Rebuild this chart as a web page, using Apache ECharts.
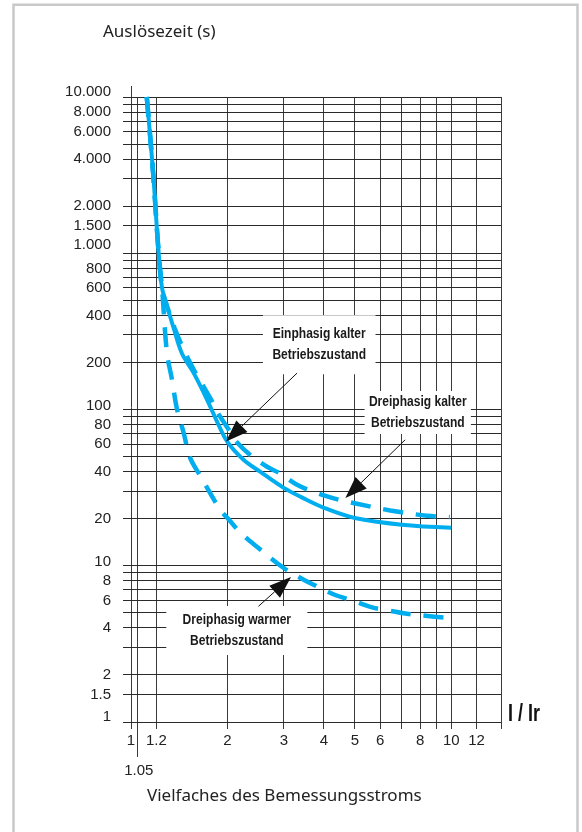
<!DOCTYPE html>
<html>
<head>
<meta charset="utf-8">
<script src="https://cdn.jsdelivr.net/npm/echarts@6/dist/echarts.min.js"></script>
<style>
  html, body { margin: 0; padding: 0; background: #fff; }
  #chart { width: 582px; height: 832px; }
</style>
</head>
<body>
<div id="chart"></div>
<script>
// Auslösekennlinie: Auslösezeit über dem Vielfachen des Bemessungsstroms (log/log)

// Axis ranges
const xMin = 1, xMax = 14.3;
const yMin = 1, yMax = 10000;

// Grid lines and tick labels
const xGridValues = [1, 1.05, 1.2, 2, 3, 4, 5, 6, 7, 8, 9, 10, 12, 14.3];
const xTickValues = [1, 1.2, 2, 3, 4, 5, 6, 8, 10, 12];
const xTickLabels = ['1', '1.2', '2', '3', '4', '5', '6', '8', '10', '12'];
const xLowTickValues = [1.05];
const xLowTickLabels = ['1.05'];

const yGridValues = [1, 1.5, 2, 3, 4, 5, 6, 7, 8, 9,
  10, 20, 30, 40, 50, 60, 70, 80, 90,
  100, 200, 300, 400, 500, 600, 700, 800, 900,
  1000, 1500, 2000, 3000, 4000, 5000, 6000, 7000, 8000, 9000, 10000];
const yTickValues = [1, 1.5, 2, 4, 6, 8, 10, 20, 40, 60, 80, 100, 200, 400, 600, 800,
  1000, 1500, 2000, 4000, 6000, 8000, 10000];
const yTickLabels = ['1', '1.5', '2', '4', '6', '8', '10', '20', '40', '60', '80', '100',
  '200', '400', '600', '800', '1.000', '1.500', '2.000', '4.000', '6.000', '8.000', '10.000'];

// Curves [I/Ir, t in s]
const einphasigKalt = [
  [1.12, 10000], [1.153, 5000], [1.176, 3000], [1.22, 1000], [1.25, 600], [1.30, 450],
  [1.36, 330], [1.44, 230], [1.57, 171], [1.73, 115], [1.85, 85], [2.0, 62],
  [2.25, 47.5], [2.53, 40], [3.0, 31.5], [3.4, 27.5], [4.0, 23.5], [5.0, 20.2],
  [7.0, 18.3], [10.0, 17.5]
];
const dreiphasigKalt = [
  [1.12, 10000], [1.153, 5000], [1.176, 3000], [1.22, 1000], [1.25, 600], [1.30, 450],
  [1.37, 330], [1.46, 242], [1.57, 180], [1.65, 151], [1.79, 113], [1.88, 93],
  [2.04, 72], [2.12, 63], [2.36, 51], [2.66, 43], [2.92, 39], [3.3, 33],
  [3.8, 29.2], [4.3, 27], [4.95, 25.2], [6.45, 22.6], [8.4, 20.9], [9.9, 20.5]
];
const dreiphasigWarm = [
  [1.12, 10000], [1.153, 5000], [1.176, 3000], [1.22, 1000], [1.25, 600], [1.295, 230],
  [1.343, 155], [1.39, 102], [1.46, 71], [1.53, 49], [1.65, 37.3], [1.9, 22.8],
  [2.02, 19.8], [2.2, 16.2], [2.5, 13], [3.0, 9.67], [3.46, 8.14], [3.81, 7.38],
  [4.34, 6.5], [4.84, 6.06], [5.59, 5.45], [6.27, 5.2], [7.27, 4.93], [8.16, 4.8],
  [9.6, 4.65]
];

// Annotations: [box x, box y, arrow start x, arrow start y, arrow tip x, arrow tip y]
const noteTexts = [
  'Einphasig kalter\nBetriebszustand',
  'Dreiphasig kalter\nBetriebszustand',
  'Dreiphasig warmer\nBetriebszustand'
];
const noteAnchors = [
  [3.87, 260, 3.30, 171, 1.98, 62.5],
  [7.86, 95.5, 7.18, 64, 4.67, 27.1],
  [2.14, 3.85, 2.50, 5.5, 3.16, 8.47]
];
const notePadding = [[8, 11, 8, 11], [0, 5, 0, 5], [3, 19, 3, 19]];

// Decade labels sit slightly above their grid line
const yLabelShift = { 1: -5, 10: -4, 100: -4, 1000: -8, 10000: -5 };

const CURVE = '#00aeef';
const GRID = '#2a2a2a';
const TEXT = '#222';
const NUM_FONT = '"Liberation Sans", Arial, sans-serif';
const BOLD_FONT = 'bold 14px "Liberation Sans", Arial, sans-serif';
const TITLE_FONT = '17px "Noto Sans", sans-serif';
const NARROW = 0.86;

const crisp = v => Math.round(v - 0.5) + 0.5;

const chart = echarts.init(document.getElementById('chart'), null, { renderer: 'canvas' });

const option = {
  animation: false,
  backgroundColor: '#fff',
  grid: { left: 131, top: 97, width: 370, height: 625, containLabel: false },
  xAxis: {
    type: 'log', logBase: 10, min: xMin, max: xMax,
    axisLine: { show: false }, axisTick: { show: false }, axisLabel: { show: false },
    splitLine: { show: false }, minorSplitLine: { show: false }
  },
  yAxis: {
    type: 'log', logBase: 10, min: yMin, max: yMax,
    axisLine: { show: false }, axisTick: { show: false }, axisLabel: { show: false },
    splitLine: { show: false }, minorSplitLine: { show: false }
  },
  graphic: [
    { type: 'rect', silent: true, z: 100,
      shape: { x: 13.5, y: 4.7, width: 564, height: 900 },
      style: { fill: 'none', stroke: '#c9c9c9', lineWidth: 2.5 } },
    { type: 'text', x: 103, y: 32,
      style: { text: 'Auslösezeit (s)', fill: TEXT, font: TITLE_FONT, verticalAlign: 'middle' } },
    { type: 'text', x: 147, y: 796,
      style: { text: 'Vielfaches des Bemessungsstroms', fill: TEXT, font: TITLE_FONT, verticalAlign: 'middle' } },
    { type: 'text', x: 508, y: 715, scaleX: 0.78,
      style: { text: 'I / Ir', fill: '#111', font: 'bold 23px "Liberation Sans", Arial, sans-serif', verticalAlign: 'middle' } }
  ],
  series: [
    // vertical grid lines
    {
      type: 'custom', silent: true, z: 1,
      data: xGridValues.map(v => [v, yMin]),
      renderItem(params, api) {
        const x = api.value(0);
        const top = api.coord([x, yMax]);
        const bot = api.coord([x, yMin]);
        let y1 = top[1], y2 = bot[1] + 7;
        if (x === xMin) y1 = top[1] - 11;
        if (x === 1.05) y2 = bot[1] + 35;
        const px = crisp(top[0]);
        return { type: 'line', shape: { x1: px, y1: y1, x2: px, y2: y2 },
          style: { stroke: '#3a3a3a', lineWidth: 1 } };
      }
    },
    // horizontal grid lines
    {
      type: 'custom', silent: true, z: 1,
      data: yGridValues.map(v => [xMin, v]),
      renderItem(params, api) {
        const y = api.value(1);
        const l = api.coord([xMin, y]);
        const r = api.coord([xMax, y]);
        const py = crisp(l[1]);
        return { type: 'line', shape: { x1: l[0] - 8, y1: py, x2: r[0], y2: py },
          style: { stroke: GRID, lineWidth: 1 } };
      }
    },
    // x tick labels
    {
      type: 'custom', silent: true, z: 2,
      data: xTickValues.map((v, i) => [v, yMin, i]),
      renderItem(params, api) {
        const p = api.coord([api.value(0), yMin]);
        return { type: 'text', x: p[0], y: p[1] + 19,
          style: { text: xTickLabels[api.value(2)], fill: TEXT, font: '15px ' + NUM_FONT,
            align: 'center', verticalAlign: 'middle' } };
      }
    },
    {
      type: 'custom', silent: true, z: 2,
      data: xLowTickValues.map((v, i) => [v, yMin, i]),
      renderItem(params, api) {
        const p = api.coord([api.value(0), yMin]);
        return { type: 'text', x: p[0] + 1, y: p[1] + 49,
          style: { text: xLowTickLabels[api.value(2)], fill: TEXT, font: '15px ' + NUM_FONT,
            align: 'center', verticalAlign: 'middle' } };
      }
    },
    // y tick labels
    {
      type: 'custom', silent: true, z: 2,
      data: yTickValues.map((v, i) => [xMin, v, i]),
      renderItem(params, api) {
        const v = api.value(1);
        const p = api.coord([xMin, v]);
        return { type: 'text', x: p[0] - 20, y: p[1] + (yLabelShift[v] || 0),
          style: { text: yTickLabels[api.value(2)], fill: TEXT, font: '15px ' + NUM_FONT,
            align: 'right', verticalAlign: 'middle' } };
      }
    },
    // curves
    {
      name: 'Einphasig kalter Betriebszustand', type: 'line', z: 5,
      data: einphasigKalt, showSymbol: false, symbol: 'none', smooth: 0.35,
      lineStyle: { color: CURVE, width: 4, type: 'solid' }
    },
    {
      name: 'Dreiphasig kalter Betriebszustand', type: 'line', z: 5,
      data: dreiphasigKalt, showSymbol: false, symbol: 'none', smooth: 0.35,
      lineStyle: { color: CURVE, width: 4.5, type: [20, 13], cap: 'butt' }
    },
    {
      name: 'Dreiphasig warmer Betriebszustand', type: 'line', z: 5,
      data: dreiphasigWarm, showSymbol: false, symbol: 'none', smooth: 0.35,
      lineStyle: { color: CURVE, width: 4.5, type: [20, 13], cap: 'butt' }
    },
    // annotations with arrows
    {
      type: 'custom', silent: true, z: 10,
      data: noteAnchors.map((a, i) => a.concat([i])),
      renderItem(params, api) {
        const i = api.value(6);
        const box = api.coord([api.value(0), api.value(1)]);
        const s = api.coord([api.value(2), api.value(3)]);
        const t = api.coord([api.value(4), api.value(5)]);
        const dx = t[0] - s[0], dy = t[1] - s[1];
        const len = Math.sqrt(dx * dx + dy * dy);
        const ux = dx / len, uy = dy / len;
        const headLen = 22, headHalf = 8;
        const bx = t[0] - ux * headLen, by = t[1] - uy * headLen;
        return {
          type: 'group',
          children: [
            { type: 'text', x: box[0], y: box[1], scaleX: NARROW,
              style: { text: noteTexts[i], fill: '#1a1a1a', font: BOLD_FONT,
                align: 'center', verticalAlign: 'middle', lineHeight: 21.5,
                backgroundColor: '#fff', padding: notePadding[i] } },
            { type: 'line', shape: { x1: s[0], y1: s[1], x2: bx, y2: by },
              style: { stroke: '#111', lineWidth: 1 } },
            { type: 'polygon',
              shape: { points: [[t[0], t[1]], [bx - uy * headHalf, by + ux * headHalf], [bx + uy * headHalf, by - ux * headHalf]] },
              style: { fill: '#111' } }
          ]
        };
      }
    }
  ]
};

chart.setOption(option);
</script>
</body>
</html>
